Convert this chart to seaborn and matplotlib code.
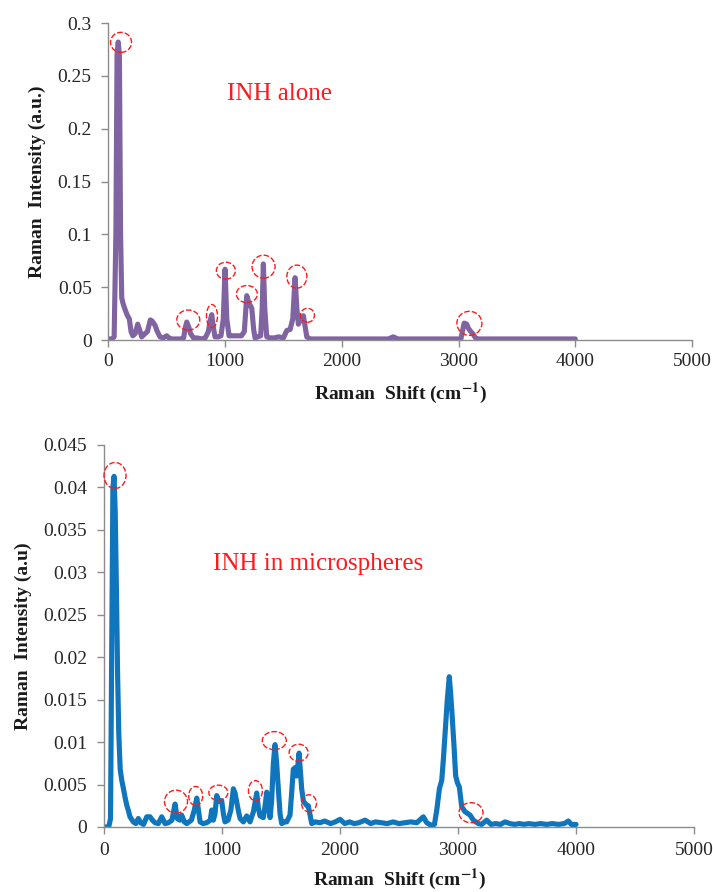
import numpy as np
import pandas as pd
import matplotlib
matplotlib.use("Agg")
import matplotlib.pyplot as plt
import matplotlib.transforms as mtransforms
from matplotlib.patches import Ellipse
from matplotlib.ticker import FuncFormatter, MultipleLocator
import seaborn as sns

# ---------------- data ----------------
shift_top = [0, 30, 50, 65, 75, 85, 95, 105, 115, 125, 140, 160, 180, 195, 210, 230, 252, 270,
             286, 314, 335, 360, 375, 400, 420, 443, 470, 500, 520, 545, 580, 620, 645, 660,
             672, 690, 705, 730, 760, 800, 830, 857, 872, 886, 900, 914, 943, 965, 985, 1000,
             1015, 1034, 1060, 1100, 1140, 1165, 1186, 1205, 1229, 1245, 1257, 1280, 1305,
             1318, 1328, 1340, 1357, 1386, 1420, 1460, 1500, 1529, 1557, 1580, 1600, 1615,
             1628, 1650, 1671, 1690, 1700, 1730, 1800, 1900, 2000, 2100, 2200, 2300, 2400,
             2440, 2480, 2550, 2650, 2750, 2850, 2950, 3020, 3048, 3070, 3085, 3105, 3122,
             3145, 3170, 3250, 3350, 3450, 3550, 3650, 3750, 3850, 3950, 4000]
int_top = [0.001, 0.001, 0.003, 0.10, 0.27, 0.282, 0.27, 0.10, 0.04, 0.035, 0.030, 0.024,
           0.020, 0.008, 0.004, 0.006, 0.015, 0.009, 0.003, 0.006, 0.008, 0.019, 0.018,
           0.014, 0.008, 0.003, 0.002, 0.004, 0.002, 0.001, 0.001, 0.001, 0.002, 0.012,
           0.017, 0.012, 0.006, 0.002, 0.002, 0.001, 0.002, 0.008, 0.018, 0.024, 0.012,
           0.003, 0.003, 0.004, 0.020, 0.067, 0.020, 0.004, 0.004, 0.004, 0.004, 0.008,
           0.042, 0.035, 0.030, 0.010, 0.002, 0.003, 0.004, 0.030, 0.072, 0.030, 0.003,
           0.002, 0.002, 0.003, 0.002, 0.009, 0.010, 0.020, 0.059, 0.030, 0.015, 0.020,
           0.023, 0.010, 0.003, 0.001, 0.001, 0.001, 0.001, 0.001, 0.001, 0.001, 0.001,
           0.003, 0.001, 0.001, 0.001, 0.001, 0.001, 0.001, 0.001, 0.016, 0.015, 0.011,
           0.008, 0.006, 0.002, 0.001, 0.001, 0.001, 0.001, 0.001, 0.001, 0.001, 0.001,
           0.001, 0.001]

shift_bot = [0, 40, 55, 65, 75, 85, 95, 105, 115, 125, 137, 150, 162, 178, 192, 205, 220, 248,
             270, 291, 310, 335, 362, 390, 410, 432, 460, 489, 517, 545, 575, 602, 620, 644,
             658, 680, 701, 740, 765, 786, 800, 814, 840, 870, 900, 913, 926, 940, 955, 975,
             997, 1012, 1025, 1051, 1075, 1096, 1110, 1124, 1140, 1153, 1181, 1209, 1237,
             1266, 1294, 1308, 1322, 1350, 1365, 1379, 1393, 1407, 1420, 1435, 1449, 1463,
             1477, 1492, 1506, 1530, 1548, 1576, 1590, 1604, 1620, 1633, 1653, 1665, 1675,
             1690, 1703, 1720, 1731, 1745, 1760, 1790, 1830, 1870, 1920, 1960, 2000, 2040,
             2080, 2120, 2160, 2212, 2260, 2300, 2350, 2400, 2450, 2500, 2550, 2600, 2650,
             2706, 2735, 2770, 2800, 2820, 2842, 2862, 2876, 2890, 2909, 2926, 2936, 2947,
             2966, 2980, 2995, 3011, 3031, 3059, 3080, 3102, 3130, 3172, 3200, 3243, 3280,
             3320, 3360, 3398, 3440, 3480, 3520, 3560, 3600, 3650, 3700, 3750, 3800, 3850,
             3900, 3935, 3960, 4000]
int_bot = [0.0, 0.0, 0.001, 0.020, 0.040, 0.0413, 0.037, 0.028, 0.018, 0.011, 0.0068,
           0.0055, 0.0047, 0.0035, 0.0026, 0.0020, 0.0012, 0.0006, 0.0004, 0.0010, 0.0005,
           0.0003, 0.0012, 0.0012, 0.0008, 0.0005, 0.0004, 0.0012, 0.0004, 0.0005, 0.0008,
           0.0027, 0.0010, 0.0008, 0.0014, 0.0006, 0.0004, 0.0008, 0.0020, 0.0034, 0.0020,
           0.0006, 0.0004, 0.0005, 0.0008, 0.0020, 0.0008, 0.0015, 0.0037, 0.0030, 0.0031,
           0.0015, 0.0006, 0.0008, 0.0020, 0.0045, 0.0040, 0.0030, 0.0018, 0.0010, 0.0006,
           0.0013, 0.0006, 0.0018, 0.0040, 0.0022, 0.0013, 0.0011, 0.0025, 0.0041, 0.0025,
           0.0011, 0.0030, 0.0075, 0.0097, 0.0075, 0.0045, 0.0015, 0.0004, 0.0006, 0.0006,
           0.0014, 0.0040, 0.0068, 0.0070, 0.0060, 0.0087, 0.0065, 0.0045, 0.0030, 0.0028,
           0.0025, 0.0025, 0.0015, 0.0004, 0.0006, 0.0005, 0.0007, 0.0004, 0.0006, 0.0009,
           0.0004, 0.0006, 0.0004, 0.0005, 0.0008, 0.0004, 0.0006, 0.0005, 0.0004, 0.0006,
           0.0004, 0.0005, 0.0006, 0.0005, 0.0012, 0.0005, 0.0002, 0.0003, 0.0020, 0.0045,
           0.0055, 0.0080, 0.0110, 0.0150, 0.0177, 0.0160, 0.0138, 0.0095, 0.0060, 0.0052,
           0.0047, 0.0024, 0.0018, 0.0016, 0.0014, 0.0008, 0.0004, 0.0003, 0.0008, 0.0003,
           0.0004, 0.0003, 0.0006, 0.0004, 0.0003, 0.0004, 0.0003, 0.0004, 0.0003, 0.0004,
           0.0003, 0.0004, 0.0003, 0.0004, 0.0007, 0.0003, 0.0003]

# highlighted peaks (data coordinates)
marks_top_x = [109, 685, 888, 1007, 1187, 1330, 1615, 1706, 3093]
marks_top_y = [0.2817, 0.0189, 0.0227, 0.0656, 0.0435, 0.0694, 0.0600, 0.0234, 0.0158]
marks_bot_x = [93, 610, 777, 969, 1283, 1443, 1649, 1737, 3110]
marks_bot_y = [0.0414, 0.00298, 0.00365, 0.00404, 0.00428, 0.01017, 0.00875, 0.00279, 0.00168]

title_top = "INH alone"
title_bot = "INH in microspheres"
xlabel = r"Raman  Shift (cm$^{\mathbf{-1}}$)"
ylabel_top = "Raman  Intensity (a.u.)"
ylabel_bot = "Raman  Intensity (a.u)"

# ---------------- styling ----------------
sns.set_style("ticks")
plt.rcParams["font.family"] = ["Liberation Serif", "DejaVu Serif"]
plt.rcParams["mathtext.fontset"] = "stix"

fig = plt.figure(figsize=(7.13, 8.92), dpi=100)
ax1 = fig.add_axes([0.1519, 0.6188, 0.8187, 0.3554])
ax2 = fig.add_axes([0.1459, 0.0729, 0.8275, 0.4283])

df_top = pd.DataFrame({"shift": shift_top, "intensity": int_top})
df_bot = pd.DataFrame({"shift": shift_bot, "intensity": int_bot})
sns.lineplot(data=df_top, x="shift", y="intensity", ax=ax1, color="#8064A2",
             linewidth=3.7, sort=False)
sns.lineplot(data=df_bot, x="shift", y="intensity", ax=ax2, color="#0F75BC",
             linewidth=3.7, sort=False)

# ellipse sizes in pixels (w, h)
sizes_top = [(21, 20), (23, 20), (11, 23), (19, 17), (21, 17), (23, 23), (20, 23), (14, 14), (25, 24)]
sizes_bot = [(22, 26), (23, 23), (14, 19), (19, 15), (14, 20), (24, 18), (19, 17), (15, 17), (24, 20)]


def mark(ax, x, y, w, h):
    tr = fig.dpi_scale_trans + mtransforms.ScaledTranslation(x, y, ax.transData)
    ax.add_patch(Ellipse((0, 0), w / 100, h / 100, transform=tr, fill=False,
                         edgecolor="#FF1A1A", lw=1.0, ls=(0, (4, 1.5)), clip_on=False,
                         zorder=5))


for x, y, (w, h) in zip(marks_top_x, marks_top_y, sizes_top):
    mark(ax1, x, y, w, h)
for x, y, (w, h) in zip(marks_bot_x, marks_bot_y, sizes_bot):
    mark(ax2, x, y, w, h)

fmt = FuncFormatter(lambda v, p: f"{v:g}")
ax1.set_xlim(0, 5000)
ax1.set_ylim(0, 0.3)
ax1.yaxis.set_major_locator(MultipleLocator(0.05))
ax2.set_xlim(0, 5000)
ax2.set_ylim(0, 0.045)
ax2.yaxis.set_major_locator(MultipleLocator(0.005))

for ax, ylab, xpad in ((ax1, ylabel_top, 4), (ax2, ylabel_bot, 6)):
    ax.xaxis.set_major_locator(MultipleLocator(1000))
    ax.yaxis.set_major_formatter(fmt)
    ax.xaxis.set_major_formatter(fmt)
    sns.despine(ax=ax)
    for s in ("left", "bottom"):
        ax.spines[s].set_color("#8C8C8C")
        ax.spines[s].set_linewidth(1.0)
    ax.tick_params(axis="both", direction="out", length=5, width=1.0, color="#8C8C8C",
                   labelsize=14, labelcolor="#262626")
    ax.tick_params(axis="y", pad=7)
    ax.tick_params(axis="x", pad=xpad)
    ax.set_xlabel(xlabel, fontsize=14, fontweight="bold", color="#1a1a1a")
    ax.set_ylabel(ylab, fontsize=14, fontweight="bold", color="#1a1a1a")

ax1.xaxis.set_label_coords(0.5, -0.13)
ax2.xaxis.set_label_coords(0.5, -0.104)
ax1.yaxis.set_label_coords(-0.106, 0.5)
ax2.yaxis.set_label_coords(-0.122, 0.5)

ax1.text(1015, 0.2328, title_top, color="#FF1A1A", fontsize=18, ha="left", va="center")
ax2.text(926, 0.0310, title_bot, color="#FF1A1A", fontsize=18, ha="left", va="center")

fig.savefig("out.png", dpi=100)
